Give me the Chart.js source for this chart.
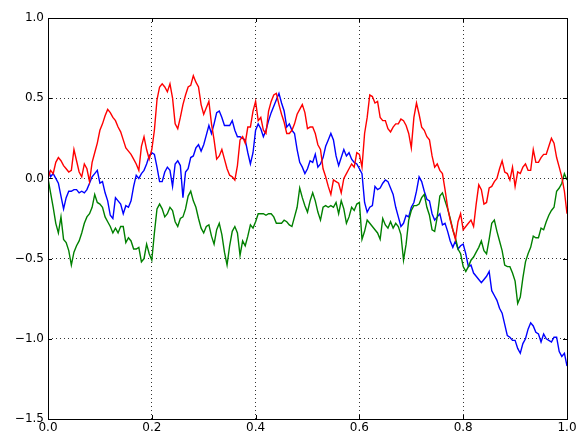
<!DOCTYPE html>
<html>
<head>
<meta charset="utf-8">
<script src="https://cdn.jsdelivr.net/npm/chart.js@4"></script>
<style>
  html, body { margin: 0; padding: 0; background: #fff; }
  #wrap { width: 584px; height: 435px; }
</style>
</head>
<body>
<div id="wrap"><canvas id="chart"></canvas></div>
<script>
// sample positions along x (0 .. 1, step 0.005)
const steps = Array.from({ length: 201 }, (_, i) => i / 200);

const redWalk = [
  0.00, 0.05, 0.03, 0.10, 0.13, 0.11, 0.08, 0.06, 0.04, 0.05,
  0.18, 0.11, 0.04, 0.01, 0.09, 0.06, -0.02, 0.10, 0.16, 0.22,
  0.30, 0.34, 0.39, 0.43, 0.41, 0.38, 0.36, 0.32, 0.29, 0.24,
  0.19, 0.17, 0.15, 0.12, 0.09, 0.05, 0.20, 0.26, 0.18, 0.12,
  0.18, 0.30, 0.49, 0.57, 0.59, 0.57, 0.54, 0.59, 0.50, 0.34,
  0.31, 0.38, 0.46, 0.52, 0.57, 0.58, 0.64, 0.60, 0.57, 0.46,
  0.40, 0.44, 0.48, 0.34, 0.24, 0.12, 0.14, 0.18, 0.12, 0.06,
  0.02, 0.01, -0.01, 0.08, 0.24, 0.26, 0.22, 0.32, 0.32, 0.42,
  0.48, 0.36, 0.38, 0.30, 0.28, 0.42, 0.48, 0.52, 0.53, 0.46,
  0.40, 0.35, 0.28, 0.28, 0.30, 0.34, 0.40, 0.43, 0.46, 0.41,
  0.31, 0.32, 0.32, 0.28, 0.21, 0.18, 0.06, 0.01, -0.05, -0.10,
  -0.01, -0.02, -0.03, -0.09, 0.00, 0.03, 0.06, 0.09, 0.07, 0.16,
  0.15, 0.07, 0.28, 0.38, 0.52, 0.51, 0.47, 0.48, 0.38, 0.36,
  0.36, 0.31, 0.29, 0.32, 0.34, 0.34, 0.37, 0.36, 0.33, 0.28,
  0.19, 0.38, 0.47, 0.40, 0.32, 0.30, 0.26, 0.24, 0.14, 0.07,
  0.09, 0.05, 0.03, -0.07, -0.18, -0.26, -0.32, -0.38, -0.27, -0.22,
  -0.32, -0.30, -0.28, -0.26, -0.30, -0.16, -0.04, -0.07, -0.16, -0.15,
  -0.06, -0.05, -0.02, 0.00, 0.06, 0.11, 0.04, 0.03, -0.01, 0.07,
  -0.05, 0.04, 0.03, 0.07, 0.09, 0.05, 0.05, 0.18, 0.10, 0.10,
  0.13, 0.15, 0.15, 0.20, 0.25, 0.22, 0.13, 0.07, 0.01, -0.08,
  -0.22
];

const blueWalk = [
  0.06, 0.01, 0.03, 0.00, -0.03, -0.11, -0.19, -0.12, -0.08, -0.08,
  -0.07, -0.07, -0.09, -0.08, -0.09, -0.07, -0.03, 0.01, 0.03, 0.05,
  -0.03, -0.02, -0.09, -0.14, -0.23, -0.25, -0.12, -0.14, -0.16, -0.22,
  -0.17, -0.18, -0.14, -0.05, 0.02, 0.00, 0.03, 0.05, 0.09, 0.14,
  0.16, 0.15, 0.07, -0.02, -0.02, 0.04, 0.07, 0.05, -0.05, 0.09,
  0.11, 0.08, -0.12, 0.04, 0.06, 0.13, 0.14, 0.19, 0.21, 0.17,
  0.21, 0.27, 0.33, 0.28, 0.34, 0.41, 0.42, 0.38, 0.33, 0.33,
  0.33, 0.36, 0.30, 0.26, 0.26, 0.25, 0.24, 0.16, 0.09, 0.16,
  0.30, 0.34, 0.31, 0.26, 0.30, 0.36, 0.41, 0.45, 0.49, 0.53,
  0.47, 0.42, 0.32, 0.34, 0.30, 0.28, 0.18, 0.10, 0.07, 0.03,
  0.06, 0.11, 0.10, 0.15, 0.07, 0.09, 0.13, 0.20, 0.24, 0.28,
  0.24, 0.14, 0.08, 0.13, 0.18, 0.14, 0.16, 0.12, 0.10, 0.09,
  0.06, 0.03, -0.15, -0.21, -0.18, -0.17, -0.05, -0.07, -0.06, -0.03,
  -0.01, -0.02, -0.06, -0.10, -0.18, -0.24, -0.30, -0.28, -0.23, -0.24,
  -0.18, -0.15, -0.08, 0.01, -0.02, -0.08, -0.13, -0.14, -0.22, -0.26,
  -0.24, -0.22, -0.29, -0.28, -0.33, -0.39, -0.43, -0.39, -0.44, -0.42,
  -0.41, -0.47, -0.55, -0.54, -0.59, -0.61, -0.63, -0.65, -0.63, -0.61,
  -0.58, -0.70, -0.73, -0.76, -0.81, -0.84, -0.91, -0.98, -0.99, -1.01,
  -1.01, -1.06, -1.09, -1.03, -1.00, -0.94, -0.90, -0.92, -0.96, -0.97,
  -1.02, -0.97, -1.00, -1.01, -1.02, -0.99, -0.99, -1.08, -1.11, -1.09,
  -1.17
];

const greenWalk = [
  0.00, -0.09, -0.18, -0.28, -0.34, -0.24, -0.38, -0.40, -0.45, -0.54,
  -0.46, -0.42, -0.39, -0.34, -0.28, -0.24, -0.22, -0.18, -0.10, -0.15,
  -0.16, -0.18, -0.24, -0.27, -0.30, -0.34, -0.31, -0.34, -0.30, -0.30,
  -0.40, -0.37, -0.39, -0.44, -0.44, -0.43, -0.52, -0.50, -0.41, -0.47,
  -0.51, -0.34, -0.19, -0.16, -0.19, -0.24, -0.22, -0.18, -0.20, -0.27,
  -0.30, -0.25, -0.24, -0.19, -0.11, -0.08, -0.14, -0.18, -0.25, -0.31,
  -0.34, -0.30, -0.29, -0.36, -0.41, -0.32, -0.28, -0.35, -0.46, -0.54,
  -0.42, -0.33, -0.30, -0.34, -0.48, -0.39, -0.42, -0.36, -0.29, -0.31,
  -0.27, -0.22, -0.22, -0.22, -0.23, -0.22, -0.22, -0.24, -0.28, -0.28,
  -0.28, -0.26, -0.27, -0.29, -0.30, -0.24, -0.18, -0.06, -0.12, -0.17,
  -0.21, -0.14, -0.09, -0.14, -0.21, -0.26, -0.18, -0.17, -0.18, -0.17,
  -0.18, -0.15, -0.22, -0.14, -0.19, -0.28, -0.24, -0.18, -0.20, -0.16,
  -0.15, -0.38, -0.33, -0.26, -0.28, -0.30, -0.32, -0.34, -0.38, -0.25,
  -0.29, -0.31, -0.27, -0.31, -0.28, -0.30, -0.35, -0.51, -0.41, -0.26,
  -0.20, -0.17, -0.17, -0.16, -0.12, -0.10, -0.18, -0.23, -0.32, -0.33,
  -0.24, -0.11, -0.09, -0.14, -0.19, -0.25, -0.32, -0.37, -0.44, -0.47,
  -0.55, -0.58, -0.55, -0.51, -0.49, -0.46, -0.43, -0.39, -0.45, -0.47,
  -0.38, -0.28, -0.26, -0.33, -0.39, -0.45, -0.54, -0.55, -0.55, -0.59,
  -0.64, -0.78, -0.74, -0.62, -0.52, -0.47, -0.43, -0.36, -0.37, -0.37,
  -0.31, -0.32, -0.27, -0.23, -0.20, -0.18, -0.08, -0.06, -0.03, 0.03,
  -0.01
];

const xTicks = [0, 0.2, 0.4, 0.6, 0.8, 1.0];
const yTicks = [-1.5, -1.0, -0.5, 0, 0.5, 1.0];

function toPoints(vals) {
  return vals.map((v, i) => ({ x: steps[i], y: v }));
}

function fmt(v) {
  return v.toFixed(1).replace("-", "\u2212");
}

// matplotlib-like frame with inward ticks on all four sides
const framePlugin = {
  id: "frame",
  afterDraw(chart) {
    const { ctx, chartArea: a, scales } = chart;
    ctx.save();
    ctx.strokeStyle = "#000";
    ctx.lineWidth = 1;
    ctx.beginPath();
    xTicks.forEach((t) => {
      const px = Math.round(scales.x.getPixelForValue(t)) + 0.5;
      ctx.moveTo(px, a.bottom);
      ctx.lineTo(px, a.bottom - 4);
      ctx.moveTo(px, a.top);
      ctx.lineTo(px, a.top + 4);
    });
    yTicks.forEach((t) => {
      const py = Math.round(scales.y.getPixelForValue(t)) + 0.5;
      ctx.moveTo(a.left, py);
      ctx.lineTo(a.left + 4, py);
      ctx.moveTo(a.right, py);
      ctx.lineTo(a.right - 4, py);
    });
    ctx.stroke();
    ctx.strokeRect(
      Math.round(a.left) + 0.5,
      Math.round(a.top) + 0.5,
      Math.round(a.right - a.left),
      Math.round(a.bottom - a.top)
    );
    ctx.restore();
  },
};

const ctx = document.getElementById("chart").getContext("2d");
new Chart(ctx, {
  type: "line",
  data: {
    datasets: [
      { data: toPoints(redWalk), borderColor: "#ff0000" },
      { data: toPoints(greenWalk), borderColor: "#008000" },
      { data: toPoints(blueWalk), borderColor: "#0000ff" },
    ],
  },
  options: {
    responsive: true,
    maintainAspectRatio: false,
    animation: false,
    layout: { padding: { top: 18, right: 17, left: 0, bottom: 0 } },
    elements: {
      line: { borderWidth: 1.4, tension: 0 },
      point: { radius: 0 },
    },
    plugins: {
      legend: { display: false },
      tooltip: { enabled: false },
    },
    scales: {
      x: {
        type: "linear",
        min: 0,
        max: 1,
        afterFit: (s) => { s.height = 16; },
        afterBuildTicks: (s) => { s.ticks = xTicks.map((v) => ({ value: v })); },
        ticks: {
          color: "#000",
          font: { family: "DejaVu Sans", size: 12 },
          padding: 2,
          maxRotation: 0,
          callback: (v) => fmt(v),
        },
        grid: { color: "#000", lineWidth: 0.8, drawTicks: false },
        border: { display: false, dash: [1, 3] },
      },
      y: {
        min: -1.5,
        max: 1,
        afterFit: (s) => { s.width = 48; },
        afterBuildTicks: (s) => { s.ticks = yTicks.map((v) => ({ value: v })); },
        ticks: {
          color: "#000",
          font: { family: "DejaVu Sans", size: 12 },
          padding: 4,
          callback: (v) => fmt(v),
        },
        grid: { color: "#000", lineWidth: 0.8, drawTicks: false },
        border: { display: false, dash: [1, 3] },
      },
    },
  },
  plugins: [framePlugin],
});
</script>
</body>
</html>
